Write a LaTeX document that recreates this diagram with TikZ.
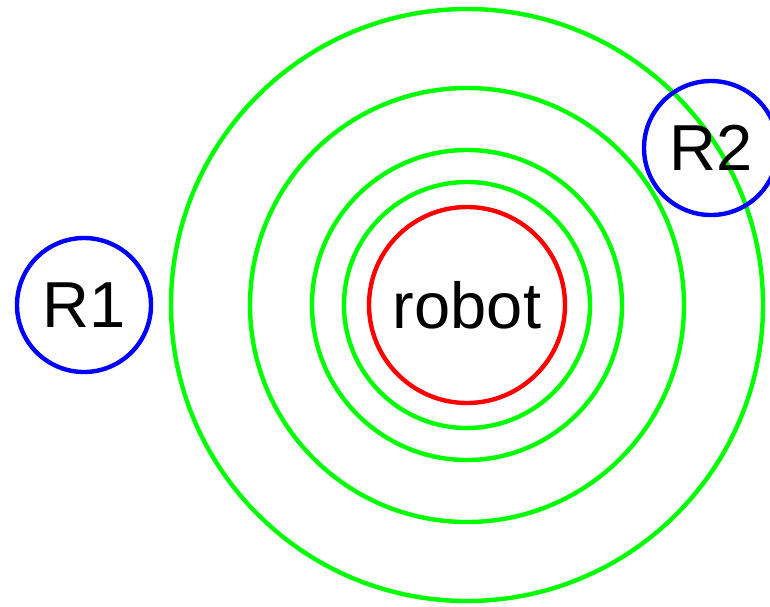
\documentclass[tikz,border=0pt]{standalone}
\usepackage{fontspec}
\setmainfont{Liberation Sans}
\usetikzlibrary{positioning}

\definecolor{ringgreen}{RGB}{0,255,0}

\tikzset{
  ring/.style={circle, draw=ringgreen, line width=2.5pt, inner sep=0pt, minimum size=#1},
  body/.style={circle, draw=#1, line width=2.5pt, inner sep=0pt, minimum size=134*0.02cm,
    font=\fontsize{37}{40}\selectfont},
}

\begin{document}
\begin{tikzpicture}[x=0.02cm, y=-0.02cm]

    % Rahmen des Bildes
    \useasboundingbox (0,0) rectangle (770,606);

    % Reichweiten um den Roboter
    \foreach \r [count=\i] in {123,155,217,296}
        \node[ring=2*\r*0.02cm] (ring\i) at (467,305) {};

    % Roboter in der Mitte
    \node[body=red, minimum size=196*0.02cm] (robot) at (467,305) {robot};

    % die beiden anderen Roboter
    \node[body=blue] (r1) at (84,305) {R1};
    \node[body=blue] (r2) at (711,148) {R2};

\end{tikzpicture}
\end{document}
